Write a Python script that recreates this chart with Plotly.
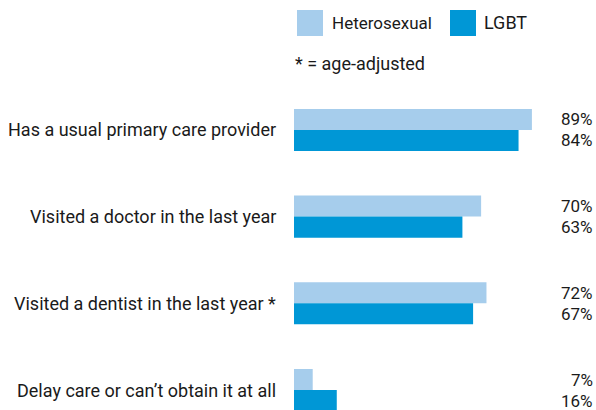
import plotly.graph_objects as go

categories = [
    "Has a usual primary care provider",
    "Visited a doctor in the last year",
    "Visited a dentist in the last year *",
    "Delay care or can’t obtain it at all",
]
heterosexual = [89, 70, 72, 7]
lgbt = [84, 63, 67, 16]

LIGHT = "#a6cdec"
DARK = "#0097d6"
TEXT = "#1a1a1a"
FONT = "Roboto, sans-serif"

W, H = 596, 410
L, R, T, B = 294, 1, 87, 0


def px_x(p):
    return (p - L) / (W - L - R)


def px_y(p):
    return 1 - (p - T) / (H - T - B)


fig = go.Figure()
fig.add_trace(go.Bar(y=categories, x=heterosexual, orientation="h", name="Heterosexual",
                     marker=dict(color=LIGHT, line=dict(width=0))))
fig.add_trace(go.Bar(y=categories, x=lgbt, orientation="h", name="LGBT",
                     marker=dict(color=DARK, line=dict(width=0))))

annotations = []
for cat, h, g in zip(categories, heterosexual, lgbt):
    # category label left of the bars
    annotations.append(dict(xref="paper", yref="y", x=0, y=cat, xshift=-16,
                            xanchor="right", yanchor="middle", text=cat, showarrow=False,
                            font=dict(size=18, color=TEXT, family=FONT)))
    # values stacked at the right edge
    annotations.append(dict(xref="paper", yref="y", x=1, y=cat, yshift=10.5,
                            xanchor="right", yanchor="middle", text=f"{h}%", showarrow=False,
                            font=dict(size=17, color=TEXT, family=FONT)))
    annotations.append(dict(xref="paper", yref="y", x=1, y=cat, yshift=-10.5,
                            xanchor="right", yanchor="middle", text=f"{g}%", showarrow=False,
                            font=dict(size=17, color=TEXT, family=FONT)))

# hand-drawn legend
shapes = [
    dict(type="rect", xref="paper", yref="paper", x0=px_x(297), x1=px_x(323),
         y0=px_y(36), y1=px_y(10), fillcolor=LIGHT, line=dict(width=0)),
    dict(type="rect", xref="paper", yref="paper", x0=px_x(450), x1=px_x(476),
         y0=px_y(36), y1=px_y(10), fillcolor=DARK, line=dict(width=0)),
]
annotations += [
    dict(xref="paper", yref="paper", x=px_x(330), y=px_y(23), xanchor="left", yanchor="middle",
         text="Heterosexual", showarrow=False, font=dict(size=17, color=TEXT, family=FONT)),
    dict(xref="paper", yref="paper", x=px_x(482), y=px_y(23), xanchor="left", yanchor="middle",
         text="LGBT", showarrow=False, font=dict(size=18, color=TEXT, family=FONT)),
    dict(xref="paper", yref="paper", x=px_x(293), y=px_y(63), xanchor="left", yanchor="middle",
         text="* = age-adjusted", showarrow=False, font=dict(size=18, color=TEXT, family=FONT)),
]

fig.update_layout(
    width=W, height=H,
    margin=dict(l=L, r=R, t=T, b=B),
    barmode="group", bargap=0.515, bargroupgap=0,
    plot_bgcolor="white", paper_bgcolor="white",
    showlegend=False,
    shapes=shapes, annotations=annotations,
    xaxis=dict(range=[0, 112.6], visible=False, fixedrange=True),
    yaxis=dict(type="category", range=[3.2307, -0.495], visible=False, fixedrange=True),
)

# drop the default page margin so the figure fills the window exactly
fig.write_html("out.html", config=dict(displayModeBar=False),
               post_script="document.body.style.margin='0px';")
